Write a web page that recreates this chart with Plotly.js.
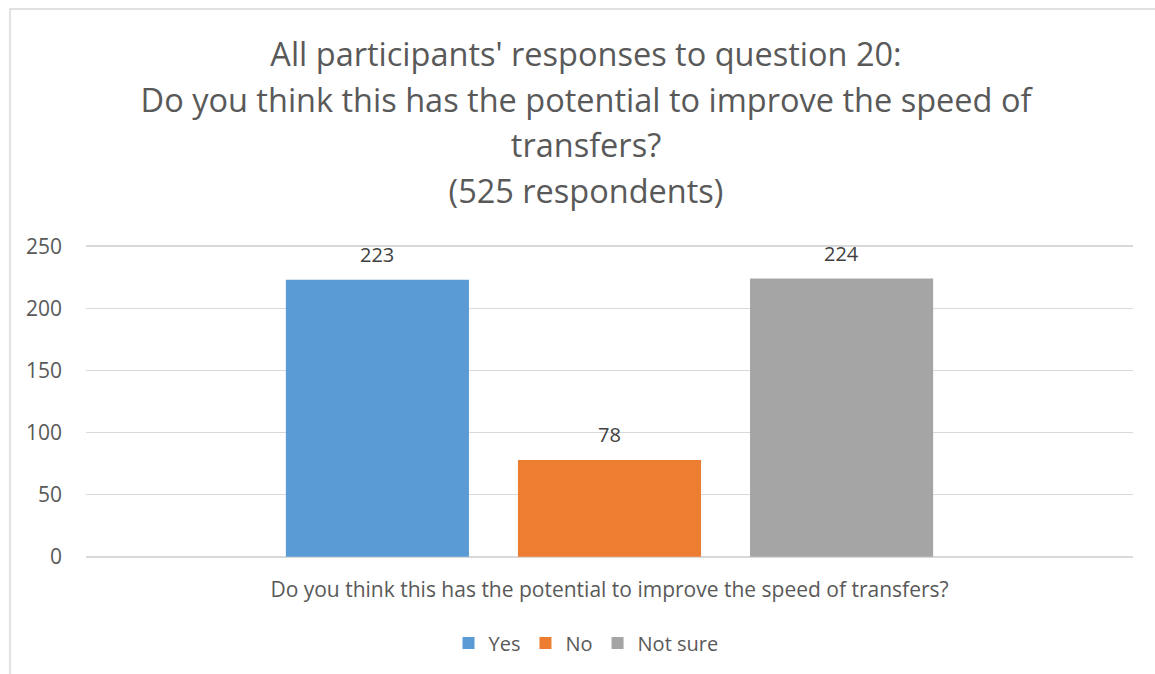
<!DOCTYPE html>
<html>
<head>
<meta charset="utf-8">
<script src="https://cdn.plot.ly/plotly-3.0.1.min.js"></script>
<style>
html, body { margin: 0; padding: 0; background: #ffffff; }
#chart { width: 1155px; height: 674px; }
</style>
</head>
<body>
<div id="chart"></div>
<script>
const titleLines = [
  "All participants' responses to question 20:",
  "Do you think this has the potential to improve the speed of",
  "transfers?",
  "(525 respondents)"
];
const category = ["Do you think this has the potential to improve the speed of transfers?"];
const seriesNames = ["Yes", "No", "Not sure"];
const seriesValues = [223, 78, 224];
const seriesColors = ["#5B9BD5", "#ED7D31", "#A5A5A5"];
const yTicks = [0, 50, 100, 150, 200, 250];

const FONT = "Open Sans, Noto Sans, sans-serif";
const GREY = "#595959";
const BARGAP = 0.335;
const BARGROUPGAP = 0.211;

const traces = seriesNames.map((name, i) => ({
  type: "bar",
  name: name,
  x: category,
  y: [seriesValues[i]],
  marker: { color: seriesColors[i] },
  hoverinfo: "name+y"
}));

// data labels above each bar, placed on the category axis via the group slot offsets
const nSeries = seriesNames.length;
const slot = (1 - BARGAP) / nSeries;
const labelAnnotations = seriesValues.map((v, i) => ({
  xref: "x", yref: "y",
  x: (i - (nSeries - 1) / 2) * slot,
  y: v,
  text: String(v),
  showarrow: false,
  xanchor: "center",
  yanchor: "bottom",
  yshift: 10,
  font: { family: FONT, size: 20, color: "#404040" }
}));

const layout = {
  width: 1155,
  height: 674,
  paper_bgcolor: "#ffffff",
  plot_bgcolor: "#ffffff",
  margin: { l: 86, r: 22, t: 244.75, b: 113.75 },
  font: { family: FONT, color: GREY },
  title: {
    text: titleLines.map(l => '<span style="font-size:32.5px">' + l + '</span>').join("<br>"),
    font: { family: FONT, size: 35, color: GREY },
    xref: "container",
    x: 586 / 1155,
    xanchor: "center",
    yref: "container",
    y: 1 - 66 / 674,
    yanchor: "top"
  },
  barmode: "group",
  bargap: BARGAP,
  bargroupgap: BARGROUPGAP,
  showlegend: true,
  legend: {
    orientation: "h",
    x: (586 - 86) / 1047,
    xanchor: "center",
    y: (559 - 644) / 313,
    yanchor: "middle",
    font: { family: FONT, size: 20, color: GREY },
    itemwidth: 30,
    traceorder: "normal"
  },
  xaxis: {
    type: "category",
    showgrid: false,
    zeroline: false,
    showline: false,
    ticks: "",
    tickfont: { family: FONT, size: 21, color: GREY },
    ticklabelstandoff: 17,
    fixedrange: true
  },
  yaxis: {
    range: [-1, 251],
    tickvals: yTicks,
    ticktext: yTicks.map(String),
    showgrid: true,
    gridcolor: "#d9d9d9",
    gridwidth: 1.5,
    zeroline: false,
    showline: false,
    ticks: "",
    tickfont: { family: FONT, size: 21, color: GREY },
    ticklabelstandoff: 23,
    fixedrange: true
  },
  annotations: labelAnnotations,
  shapes: [{
    type: "rect",
    xref: "paper", yref: "paper",
    x0: (10 - 86) / 1047, x1: (1200 - 86) / 1047,
    y0: (559 - 720) / 313, y1: (559 - 10) / 313,
    line: { color: "#d9d9d9", width: 1.5 },
    fillcolor: "rgba(0,0,0,0)",
    layer: "below"
  }]
};

Plotly.newPlot("chart", traces, layout, { displayModeBar: false, staticPlot: true });
</script>
</body>
</html>
